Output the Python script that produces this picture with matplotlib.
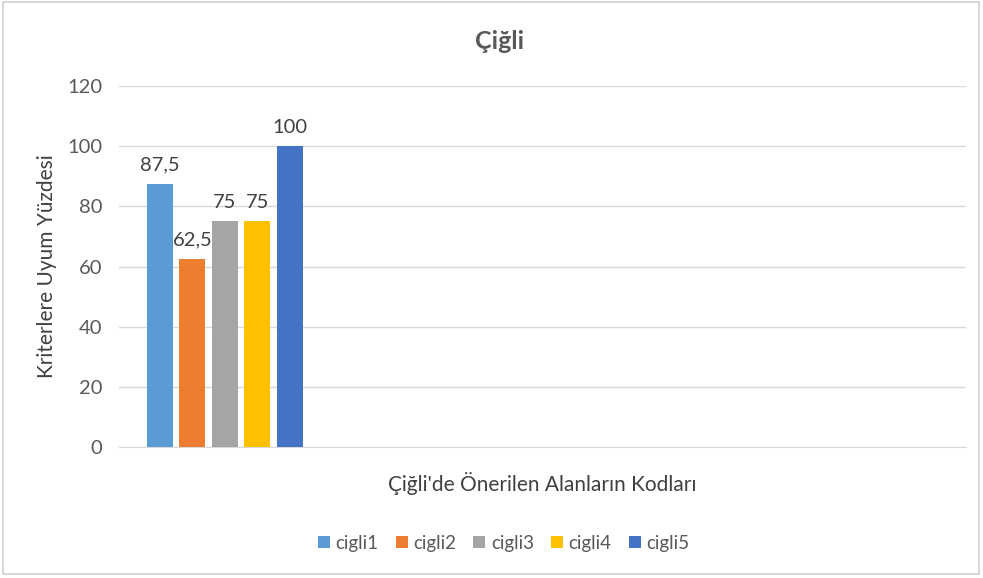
import matplotlib.pyplot as plt
from matplotlib.patches import Rectangle

# veri
alanlar = ["cigli1", "cigli2", "cigli3", "cigli4", "cigli5"]
degerler = [87.5, 62.5, 75, 75, 100]
etiketler = ["87,5", "62,5", "75", "75", "100"]
renkler = ["#5B9BD5", "#ED7D31", "#A5A5A5", "#FFC000", "#4472C4"]
y_ticks = [0, 20, 40, 60, 80, 100, 120]

plt.rcParams['font.family'] = ['Lato', 'DejaVu Sans']

fig = plt.figure(figsize=(9.83, 5.78), dpi=100)
ax = fig.add_axes([0.121, 0.2266, 0.862, 0.6246])

# grafik çerçevesi
fig.patches.append(Rectangle((3 / 983, 4 / 578), 976 / 983, 572 / 578,
                             transform=fig.transFigure, fill=False,
                             edgecolor="#D0D0D0", linewidth=1.2))

for i, (ad, deger, renk) in enumerate(zip(alanlar, degerler, renkler)):
    ax.bar(i, deger, width=0.8, color=renk, label=ad, zorder=3)
    ax.text(i, deger + 3.5, etiketler[i], ha="center", va="bottom",
            fontsize=14.5, color="#404040")

ax.set_xlim(-1.26, 24.8)
ax.set_ylim(0, 120)
ax.set_yticks(y_ticks)
ax.set_xticks([])
ax.tick_params(axis="y", length=0, labelsize=14.5, labelcolor="#595959", pad=12)
ax.yaxis.grid(True, color="#D9D9D9", linewidth=1, zorder=0)
for s in ["top", "right", "left"]:
    ax.spines[s].set_visible(False)
ax.spines["bottom"].set_color("#D9D9D9")

ax.set_ylabel("Kriterlere Uyum Yüzdesi", fontsize=15, color="#404040")
ax.yaxis.set_label_coords(-0.085, 0.5)
ax.yaxis.label.set_va("center")
ax.set_xlabel("Çiğli'de Önerilen Alanların Kodları", fontsize=15, color="#404040")
ax.xaxis.set_label_coords(0.5, -0.0997)
ax.xaxis.label.set_va("center")

fig.text(0.5085, 0.928, "Çiğli", ha="center", va="center", fontsize=18,
         fontweight="bold", color="#595959")

ax.legend(loc="center", bbox_to_anchor=(0.454, -0.266), ncol=5, frameon=False,
          fontsize=13.5, labelcolor="#595959", handlelength=0.65, handleheight=0.65,
          handletextpad=0.3, columnspacing=0.9)

fig.savefig("out.png", dpi=100)
